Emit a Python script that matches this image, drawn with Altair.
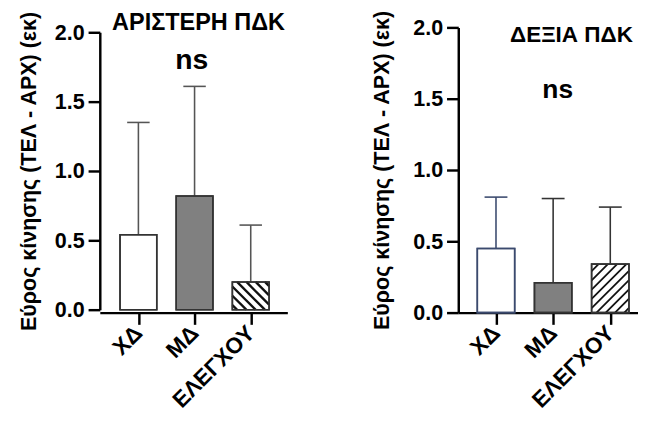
import json
import pandas as pd
import altair as alt

categories = ["ΧΔ", "ΜΔ", "ΕΛΕΓΧΟΥ"]
positions = [0, 1, 2]
left_mean = [0.54, 0.82, 0.20]
left_upper = [1.35, 1.61, 0.61]
right_mean = [0.45, 0.21, 0.34]
right_upper = [0.81, 0.80, 0.74]
fills = ["#ffffff", "#808080", "#ffffff"]
panel_titles = ["ΑΡΙΣΤΕΡΗ ΠΔΚ", "ΔΕΞΙΑ ΠΔΚ"]
y_title = "Εύρος κίνησης (ΤΕΛ - ΑΡΧ) (εκ)"
sig_label = "ns"
y_ticks = [0.0, 0.5, 1.0, 1.5, 2.0]

FONT = "Liberation Sans"
HALF = 0.327
CAP = 0.2
H = 292

label_expr = json.dumps(categories, ensure_ascii=False) + "[datum.value]"


def hatch_segments(pos, val, kx, ky, direction, step_px):
    W = 2 * HALF * kx
    Hh = val * ky
    segs = []
    if direction == "/":
        c = -W + step_px * 0.5
        while c < Hh:
            u0 = max(0.0, -c)
            u1 = min(W, Hh - c)
            if u1 > u0:
                segs.append((u0, u0 + c, u1, u1 + c))
            c += step_px
    else:
        c = step_px * 0.5
        while c < W + Hh:
            u0 = max(0.0, c - Hh)
            u1 = min(W, c)
            if u1 > u0:
                segs.append((u0, c - u0, u1, c - u1))
            c += step_px
    rows = []
    for (u0, v0, u1, v1) in segs:
        rows.append({
            "hx1": pos - HALF + u0 / kx, "hy1": v0 / ky,
            "hx2": pos - HALF + u1 / kx, "hy2": v1 / ky,
        })
    return pd.DataFrame(rows)


def panel(means, uppers, title_txt, title_xy, title_fs, ns_xy, ns_fs, dom, width,
          yrange, strokes, errs, hatch_dir, hatch_w, err_w, title_pad):
    kx = width / (dom[1] - dom[0])
    ky = (yrange[0] - yrange[1]) / 2.0
    df = pd.DataFrame({
        "cat": categories, "pos": positions, "mean": means, "upper": uppers,
        "fill": fills, "stroke": strokes, "err": errs,
    })
    df["lo"] = df["pos"] - HALF
    df["hi"] = df["pos"] + HALF
    df["clo"] = df["pos"] - CAP
    df["chi"] = df["pos"] + CAP
    df["zero"] = 0.0

    xs = alt.Scale(domain=dom, nice=False, zero=False)
    ys = alt.Scale(domain=[0, 2], nice=False, zero=True, range=yrange)
    xa = alt.Axis(values=positions, labelExpr=label_expr, title=None,
                  labelOverlap=False)
    ya = alt.Axis(values=y_ticks, format=".1f", title=y_title, labelOverlap=False,
                  titlePadding=title_pad)

    base = alt.Chart(df)
    err = base.mark_rule(strokeWidth=err_w).encode(
        x=alt.X("pos:Q", scale=xs, axis=xa),
        y=alt.Y("mean:Q", scale=ys, axis=ya),
        y2="upper:Q",
        color=alt.Color("err:N", scale=None),
    )
    cap = base.mark_rule(strokeWidth=err_w).encode(
        x=alt.X("clo:Q", scale=xs, axis=xa),
        x2="chi:Q",
        y=alt.Y("upper:Q", scale=ys, axis=ya),
        color=alt.Color("err:N", scale=None),
    )
    bars = base.mark_rect(strokeWidth=1.6).encode(
        x=alt.X("lo:Q", scale=xs, axis=xa),
        x2="hi:Q",
        y=alt.Y("zero:Q", scale=ys, axis=ya),
        y2="mean:Q",
        fill=alt.Fill("fill:N", scale=None),
        stroke=alt.Stroke("stroke:N", scale=None),
    )
    hdf = hatch_segments(positions[2], means[2], kx, ky, hatch_dir, 9.5)
    hatch = alt.Chart(hdf).mark_rule(color="#111111", strokeWidth=hatch_w).encode(
        x=alt.X("hx1:Q", scale=xs, axis=xa),
        x2="hx2:Q",
        y=alt.Y("hy1:Q", scale=ys, axis=ya),
        y2="hy2:Q",
    )
    outline = base.mark_rect(strokeWidth=1.6, fillOpacity=0).encode(
        x=alt.X("lo:Q", scale=xs, axis=xa),
        x2="hi:Q",
        y=alt.Y("zero:Q", scale=ys, axis=ya),
        y2="mean:Q",
        stroke=alt.Stroke("stroke:N", scale=None),
    )
    tdf = pd.DataFrame({
        "tx": [title_xy[0], ns_xy[0]],
        "ty": [title_xy[1], ns_xy[1]],
        "txt": [title_txt, sig_label],
        "fs": [title_fs, ns_fs],
    })
    texts = alt.Chart(tdf).mark_text(
        font=FONT, fontWeight="bold", baseline="alphabetic", align="center",
        color="black",
    ).encode(
        x=alt.X("tx:Q", scale=xs, axis=xa),
        y=alt.Y("ty:Q", scale=ys, axis=ya),
        text="txt:N",
        size=alt.Size("fs:Q", scale=None),
    )
    return alt.layer(err, cap, bars, hatch, outline, texts).properties(
        width=width, height=H
    )


left = panel(left_mean, left_upper, panel_titles[0], (1.07, 2.02), 24,
             (0.95, 1.733), 29,
             [-0.687, 2.652], 192, [289, 5],
             ["#333333"] * 3, ["#555555"] * 3, "\\", 2.4, 1.6, 14)
right = panel(right_mean, right_upper, panel_titles[1], (1.32, 1.898), 23,
              (1.08, 1.505), 27,
              [-0.66, 2.485], 184, [H, 0],
              ["#3b4a6e", "#333333", "#333333"], ["#3b4a6e", "#333333", "#333333"],
              "/", 1.8, 1.6, 20)

chart = alt.hconcat(left, right, spacing=85).properties(
    padding={"left": 10, "top": -3, "right": 0, "bottom": 0}
).configure_view(stroke=None).configure_axis(
    grid=False,
    domainColor="black", domainWidth=2.5,
    tickColor="black", tickWidth=2.5, tickSize=12,
    labelFont=FONT, labelFontWeight="bold", labelFontSize=22, labelColor="black",
    labelPadding=4,
    titleFont=FONT, titleFontWeight="bold", titleFontSize=22, titleColor="black",
).configure_axisX(
    labelAngle=315, labelAlign="right", labelBaseline="middle", labelFontSize=23,
    labelPadding=5,
)

chart.save("out.html", embed_options={"renderer": "svg", "actions": False})
